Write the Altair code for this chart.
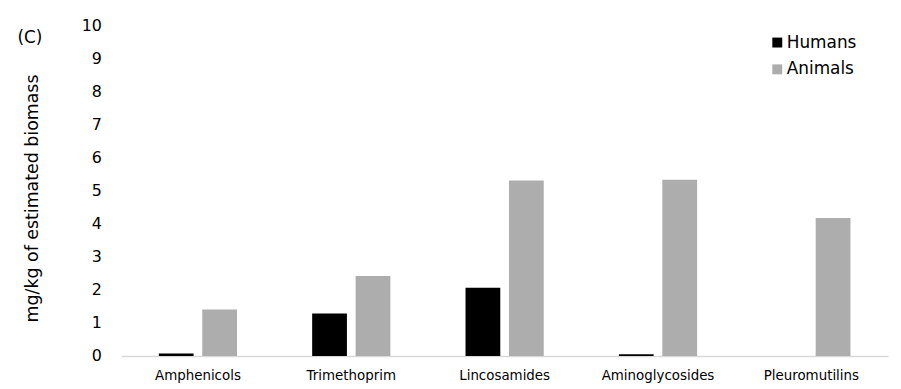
import altair as alt
import pandas as pd

categories = ["Amphenicols", "Trimethoprim", "Lincosamides", "Aminoglycosides", "Pleuromutilins"]
humans = [0.07, 1.28, 2.06, 0.05, 0.0]
animals = [1.40, 2.42, 5.30, 5.33, 4.17]
series = ["Humans", "Animals"]
colors = ["#000000", "#ADADAD"]
y_ticks = list(range(0, 11))

rows = []
for i, c in enumerate(categories):
    rows.append({"category": c, "group": "Humans", "value": humans[i]})
    rows.append({"category": c, "group": "Animals", "value": animals[i]})
df = pd.DataFrame(rows)

FONT = "DejaVu Sans"

bars = alt.Chart(df).mark_bar().encode(
    x=alt.X("category:N", sort=categories,
            scale=alt.Scale(paddingInner=0.49, paddingOuter=0.245),
            axis=alt.Axis(title=None, labelAngle=0, ticks=False, domain=True,
                          domainColor="#D9D9D9", domainWidth=1.5,
                          labelFont=FONT, labelFontSize=13.5, labelColor="#000000",
                          labelPadding=13)),
    xOffset=alt.XOffset("group:N", sort=series,
                        scale=alt.Scale(paddingInner=0.2, paddingOuter=0)),
    y=alt.Y("value:Q", scale=alt.Scale(domain=[0, 10], nice=False),
            axis=alt.Axis(values=y_ticks, title="mg/kg of estimated biomass",
                          grid=False, ticks=False, domain=False,
                          labelFont=FONT, labelFontSize=16, labelColor="#000000",
                          labelPadding=20, titleFont=FONT, titleFontSize=17.5,
                          titleFontWeight="normal", titleColor="#000000",
                          titleX=-89, titleY=174, titleAngle=270,
                          titleAlign="center", titleBaseline="middle")),
    color=alt.Color("group:N", sort=series,
                    scale=alt.Scale(domain=series, range=colors),
                    legend=alt.Legend(title=None, orient="none", legendX=652, legendY=9,
                                      symbolType="square", symbolSize=100,
                                      labelFont=FONT, labelFontSize=17, labelOffset=1,
                                      labelColor="#000000", rowPadding=9,
                                      symbolStrokeWidth=0)),
)

label = alt.Chart(pd.DataFrame({"t": ["(C)"]})).mark_text(
    font=FONT, fontSize=17, color="#000000", align="center", baseline="middle"
).encode(x=alt.value(-92), y=alt.value(13), text="t:N")

chart = alt.layer(bars, label).properties(
    width=772, height=333,
    autosize=alt.AutoSizeParams(type="none"),
    padding={"left": 114, "top": 16, "right": 5, "bottom": 28},
).configure_view(stroke=None)

chart.save("out.html", embed_options={"renderer": "svg", "actions": False})
